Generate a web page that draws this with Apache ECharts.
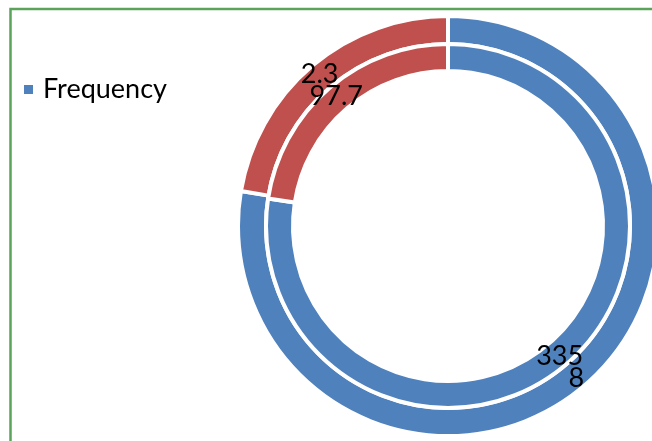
<!DOCTYPE html>
<html>
<head>
<meta charset="utf-8">
<script src="https://cdn.jsdelivr.net/npm/echarts@6/dist/echarts.min.js"></script>
<style>
  html, body { margin: 0; padding: 0; background: #fff; }
  #chart { width: 652px; height: 441px; }
</style>
</head>
<body>
<div id="chart"></div>
<script>
// Slice categories (legend shows the first one only)
const categories = ['Frequency', 'Percent'];
// Inner ring: counts row
const innerValues = [335, 97.7];
// Outer ring: second row
const outerValues = [8, 2.3];

const colors = ['#4F81BD', '#C0504D'];
const labelFont = 'Lato, "Open Sans", sans-serif';

function ringData(values) {
  return values.map((v, i) => ({
    name: categories[i],
    value: v,
    itemStyle: { color: colors[i] }
  }));
}

const labelStyle = {
  show: true,
  position: 'inside',
  formatter: p => String(p.value),
  color: '#000',
  fontSize: 27,
  fontFamily: labelFont
};

function ring(radius, values) {
  return {
    type: 'pie',
    center: [448, 226],
    radius: radius,
    startAngle: 90,
    clockwise: true,
    avoidLabelOverlap: false,
    labelLayout: { hideOverlap: false },
    itemStyle: { borderColor: '#fff', borderWidth: 4 },
    label: labelStyle,
    labelLine: { show: false },
    emphasis: { disabled: true },
    data: ringData(values)
  };
}

const chart = echarts.init(document.getElementById('chart'), null, { renderer: 'canvas' });
chart.setOption({
  animation: false,
  backgroundColor: '#fff',
  graphic: [{
    type: 'rect',
    shape: { x: 10.5, y: 9, width: 700, height: 500 },
    style: { fill: 'none', stroke: '#5BA35B', lineWidth: 2.5 },
    z: 0
  }],
  legend: {
    data: ['Frequency'],
    left: 17,
    top: 71,
    icon: 'rect',
    itemWidth: 11,
    itemHeight: 11,
    itemGap: 8,
    textStyle: { fontSize: 27, color: '#000', fontFamily: labelFont, padding: [0, 0, 0, 4] }
  },
  series: [
    ring([182, 210], outerValues),
    ring([155, 182], innerValues)
  ]
});
</script>
</body>
</html>
